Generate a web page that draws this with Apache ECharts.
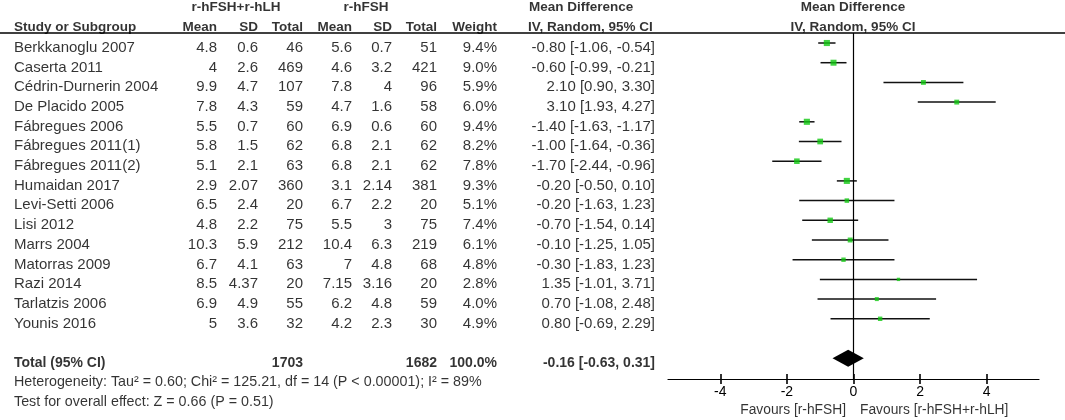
<!DOCTYPE html>
<html lang="en">
<head>
  <meta charset="UTF-8">
  <title>Forest plot</title>
  <script src="https://cdn.jsdelivr.net/npm/echarts@6/dist/echarts.min.js"></script>
</head>
<body style="margin:0;">
<div id="box" style="width:1065px;height:420px;"></div>
<script>
  // study rows
  var studies = ['Berkkanoglu 2007', 'Caserta 2011', 'Cédrin-Durnerin 2004', 'De Placido 2005', 'Fábregues 2006',
    'Fábregues 2011(1)', 'Fábregues 2011(2)', 'Humaidan 2017', 'Levi-Setti 2006', 'Lisi 2012',
    'Marrs 2004', 'Matorras 2009', 'Razi 2014', 'Tarlatzis 2006', 'Younis 2016'];
  var expMean = ['4.8', '4', '9.9', '7.8', '5.5', '5.8', '5.1', '2.9', '6.5', '4.8', '10.3', '6.7', '8.5', '6.9', '5'];
  var expSD = ['0.6', '2.6', '4.7', '4.3', '0.7', '1.5', '2.1', '2.07', '2.4', '2.2', '5.9', '4.1', '4.37', '4.9', '3.6'];
  var expTotal = [46, 469, 107, 59, 60, 62, 63, 360, 20, 75, 212, 63, 20, 55, 32];
  var ctlMean = ['5.6', '4.6', '7.8', '4.7', '6.9', '6.8', '6.8', '3.1', '6.7', '5.5', '10.4', '7', '7.15', '6.2', '4.2'];
  var ctlSD = ['0.7', '3.2', '4', '1.6', '0.6', '2.1', '2.1', '2.14', '2.2', '3', '6.3', '4.8', '3.16', '4.8', '2.3'];
  var ctlTotal = [51, 421, 96, 58, 60, 62, 62, 381, 20, 75, 219, 68, 20, 59, 30];
  var weight = [9.4, 9.0, 5.9, 6.0, 9.4, 8.2, 7.8, 9.3, 5.1, 7.4, 6.1, 4.8, 2.8, 4.0, 4.9];
  var md = [-0.80, -0.60, 2.10, 3.10, -1.40, -1.00, -1.70, -0.20, -0.20, -0.70, -0.10, -0.30, 1.35, 0.70, 0.80];
  var ciLow = [-1.06, -0.99, 0.90, 1.93, -1.63, -1.64, -2.44, -0.50, -1.63, -1.54, -1.25, -1.83, -1.01, -1.08, -0.69];
  var ciHigh = [-0.54, -0.21, 3.30, 4.27, -1.17, -0.36, -0.96, 0.10, 1.23, 0.14, 1.05, 1.23, 3.71, 2.48, 2.29];
  // pooled result
  var totalExp = 1703, totalCtl = 1682, totalWeight = '100.0%';
  var pooled = [-0.16, -0.63, 0.31];
  var tickValues = [-4, -2, 0, 2, 4];
  var heterogeneity = 'Heterogeneity: Tau\u00b2 = 0.60; Chi\u00b2 = 125.21, df = 14 (P < 0.00001); I\u00b2 = 89%';
  var overall = 'Test for overall effect: Z = 0.66 (P = 0.51)';
  var favours = ['Favours [r-hFSH]', 'Favours [r-hFSH+r-hLH]'];

  // layout (pixel columns of the table, row numbers)
  var FONT = "'Liberation Sans', Arial, sans-serif";
  var colRight = [217, 258, 303, 352, 392, 437, 497, 655];
  var totalRow = 16;

  function fmt(v) { return v.toFixed(2); }

  var cells = [];
  function cell(x, row, text, pos, bold, size) {
    cells.push({
      value: [x, row],
      label: {
        show: true, formatter: text, position: pos, distance: 0,
        fontWeight: bold ? 'bold' : 'normal', fontSize: size || 15
      }
    });
  }

  // header
  cell(236, -2.07, 'r-hFSH+r-hLH', 'inside', true, 13.5);
  cell(366, -2.07, 'r-hFSH', 'inside', true, 13.5);
  cell(529, -2.07, 'Mean Difference', 'right', true, 13.5);
  cell(853, -2.07, 'Mean Difference', 'inside', true, 13.5);
  cell(14, -1.03, 'Study or Subgroup', 'right', true, 13.5);
  ['Mean', 'SD', 'Total', 'Mean', 'SD', 'Total', 'Weight'].forEach(function (h, k) {
    cell(colRight[k], -1.03, h, 'left', true, 13.5);
  });
  cell(528, -1.03, 'IV, Random, 95% CI', 'right', true, 13.5);
  cell(853, -1.03, 'IV, Random, 95% CI', 'inside', true, 13.5);

  // study rows
  studies.forEach(function (s, i) {
    cell(14, i, s, 'right');
    var vals = [expMean[i], expSD[i], expTotal[i], ctlMean[i], ctlSD[i], ctlTotal[i], weight[i].toFixed(1) + '%',
      fmt(md[i]) + ' [' + fmt(ciLow[i]) + ', ' + fmt(ciHigh[i]) + ']'];
    vals.forEach(function (v, k) { cell(colRight[k], i, String(v), 'left'); });
  });

  // total + footer
  cell(14, totalRow, 'Total (95% CI)', 'right', true, 14);
  cell(colRight[2], totalRow, String(totalExp), 'left', true, 14);
  cell(colRight[5], totalRow, String(totalCtl), 'left', true, 14);
  cell(colRight[6], totalRow, totalWeight, 'left', true, 14);
  cell(colRight[7], totalRow, fmt(pooled[0]) + ' [' + fmt(pooled[1]) + ', ' + fmt(pooled[2]) + ']', 'left', true, 14);
  cell(14, 16.99, heterogeneity, 'right', false, 14.3);
  cell(14, 18.0, overall, 'right', false, 14.3);
  cell(846, 18.42, favours[0], 'left', false, 13.8);
  cell(860, 18.42, favours[1], 'right', false, 13.8);

  var myChart = echarts.init(document.getElementById('box'), null, {renderer: 'canvas'});
  var option = {
    backgroundColor: '#fff',
    animation: false,
    textStyle: {fontFamily: FONT, color: '#000'},
    grid: [
      {left: 0, right: 0, top: 0, bottom: 0},
      {left: 668, width: 371, top: 33, height: 346}
    ],
    xAxis: [
      {gridIndex: 0, type: 'value', min: 0, max: 1065, show: false},
      {
        gridIndex: 1, type: 'value', min: -5.57, max: 5.57, position: 'bottom',
        axisLine: {show: true, onZero: false, lineStyle: {color: '#000', width: 1.2}},
        axisTick: {show: true, length: 5, customValues: tickValues, lineStyle: {color: '#000', width: 1.6}},
        axisLabel: {customValues: tickValues, color: '#000', fontSize: 14, fontFamily: FONT, margin: 6},
        splitLine: {show: false}
      },
      {
        // upper half of the ticks, so they cross the axis line
        gridIndex: 1, type: 'value', min: -5.57, max: 5.57, position: 'bottom',
        axisLine: {show: false, onZero: false},
        axisTick: {show: true, inside: true, length: 5, customValues: tickValues, lineStyle: {color: '#000', width: 1.6}},
        axisLabel: {show: false},
        splitLine: {show: false}
      }
    ],
    yAxis: [
      // text rows: centre of row i at 47.7 + 19.7 * i px
      {gridIndex: 0, type: 'value', inverse: true, min: -2.421, max: 18.898, show: false},
      // plot rows: centre of row i at 43 + 19.7 * i px
      {gridIndex: 1, type: 'value', inverse: true, min: -0.508, max: 17.056, show: false}
    ],
    series: [
      {
        type: 'scatter', xAxisIndex: 0, yAxisIndex: 0, symbolSize: 0, clip: false, silent: true,
        label: {show: true, color: '#000', fontFamily: FONT},
        data: cells,
        markLine: {
          silent: true, symbol: 'none', label: {show: false},
          lineStyle: {color: '#000', width: 1.5, type: 'solid'},
          data: [{yAxis: -0.746}]
        }
      },
      {
        // confidence intervals
        type: 'custom', xAxisIndex: 1, yAxisIndex: 1, silent: true,
        data: studies.map(function (s, i) { return [ciLow[i], ciHigh[i], i]; }),
        renderItem: function (params, api) {
          var a = api.coord([api.value(0), api.value(2)]);
          var b = api.coord([api.value(1), api.value(2)]);
          return {type: 'line', shape: {x1: a[0], y1: a[1], x2: b[0], y2: b[1]},
            style: {stroke: '#111', lineWidth: 1.5}};
        }
      },
      {
        // point estimates, square size by weight
        type: 'scatter', xAxisIndex: 1, yAxisIndex: 1, symbol: 'rect', silent: true,
        data: studies.map(function (s, i) { return [md[i], i, weight[i]]; }),
        symbolSize: function (v) { return 2 * Math.sqrt(v[2]); },
        itemStyle: {color: '#12c812'},
        markLine: {
          silent: true, symbol: 'none', label: {show: false},
          lineStyle: {color: '#000', width: 1.2, type: 'solid'},
          data: [{xAxis: 0}]
        }
      },
      {
        // pooled diamond
        type: 'custom', xAxisIndex: 1, yAxisIndex: 1, silent: true,
        data: [[pooled[0], pooled[1], pooled[2], totalRow]],
        renderItem: function (params, api) {
          var y = api.value(3);
          var l = api.coord([api.value(1), y]);
          var c = api.coord([api.value(0), y]);
          var r = api.coord([api.value(2), y]);
          var h = 8.5;
          return {type: 'polygon',
            shape: {points: [[l[0], l[1]], [c[0], c[1] - h], [r[0], r[1]], [c[0], c[1] + h]]},
            style: {fill: '#000'}};
        }
      }
    ]
  };
  myChart.setOption(option);
</script>
</body>
</html>
